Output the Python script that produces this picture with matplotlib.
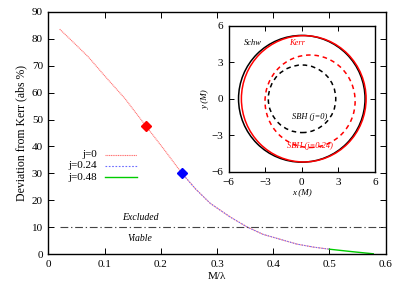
import matplotlib
matplotlib.use("Agg")
import matplotlib.pyplot as plt
from matplotlib.patches import Ellipse
from matplotlib.lines import Line2D

plt.rcParams["font.family"] = ["Liberation Serif", "DejaVu Serif"]

# ---- main curve data: deviation from Kerr vs M/lambda ----
ml_j0 = [0.02, 0.045, 0.071, 0.1, 0.136, 0.173, 0.205, 0.237, 0.262, 0.288,
         0.323, 0.353, 0.382, 0.412, 0.442, 0.471, 0.5]
dev_j0 = [83.5, 78.5, 73.2, 66.2, 57.8, 47.7, 39.1, 30.2, 24.2, 18.9,
          13.9, 10.2, 7.4, 5.6, 3.8, 2.7, 1.9]
ml_j024 = [0.237, 0.262, 0.288, 0.323, 0.353, 0.382, 0.412, 0.442, 0.471, 0.5]
dev_j024 = [30.2, 24.2, 18.9, 13.9, 10.2, 7.4, 5.6, 3.8, 2.7, 1.9]
ml_j048 = [0.5, 0.54, 0.578]
dev_j048 = [1.9, 1.0, 0.2]

marker_red = (0.173, 47.7)
marker_blue = (0.237, 30.2)
threshold = 10
threshold_x = [0.02, 0.6]

# ---- inset shadow contours: (centre x, centre y, width, height) ----
shadows = {
    "Schw":        (0.0, 0.0, 10.39, 10.39),
    "Kerr":        (0.16, 0.0, 10.24, 10.36),
    "SBH (j=0)":   (0.02, 0.0, 5.54, 5.54),
    "SBH (j=0.24)": (0.68, -0.2, 7.4, 7.58),
}
shadow_style = {
    "Schw": ("black", "-"),
    "Kerr": ("red", "-"),
    "SBH (j=0)": ("black", (0, (3, 2.5))),
    "SBH (j=0.24)": ("red", (0, (3, 2.5))),
}

RED_LINE = "#ff7070"
BLUE_LINE = "#6a6aff"
GREEN_LINE = "#00cc00"

fig = plt.figure(figsize=(4.07, 2.91), dpi=100)
ax = fig.add_axes([0.119, 0.126, 0.8285, 0.834])

ax.plot(ml_j0, dev_j0, color=RED_LINE, lw=0.8, ls=(0, (1, 0.6)))
ax.plot(ml_j024, dev_j024, color=BLUE_LINE, lw=0.7, ls=(0, (1.5, 1.5)))
ax.plot(ml_j048, dev_j048, color=GREEN_LINE, lw=1.0)
ax.plot(*marker_red, marker="D", color="red", ms=5)
ax.plot(*marker_blue, marker="D", color="blue", ms=5)
ax.plot(threshold_x, [threshold, threshold], color="#444444", lw=0.8,
        ls=(0, (7, 2.5, 1.2, 2.5)))

ax.text(0.163, 13.6, "Excluded", style="italic", fontsize=7, ha="center", va="center")
ax.text(0.163, 5.7, "Viable", style="italic", fontsize=7, ha="center", va="center")

ax.set_xlim(0, 0.6)
ax.set_ylim(0, 90)
ax.set_xticks([0, 0.1, 0.2, 0.3, 0.4, 0.5, 0.6])
ax.set_xticklabels(["0", "0.1", "0.2", "0.3", "0.4", "0.5", "0.6"])
ax.set_yticks(range(0, 91, 10))
ax.tick_params(direction="in", top=True, right=True, length=4, width=0.7,
               labelsize=8, pad=4)
for s in ax.spines.values():
    s.set_linewidth(1.0)
ax.set_xlabel("M/λ", fontsize=8, labelpad=2)
ax.set_ylabel("Deviation from Kerr (abs %)", fontsize=8.5, labelpad=3)

# legend drawn gnuplot-style: labels right-aligned, sample to the right
leg_items = [("j=0", RED_LINE, (0, (1, 0.6)), 0.8),
             ("j=0.24", BLUE_LINE, (0, (1.5, 1.5)), 0.8),
             ("j=0.48", GREEN_LINE, "-", 1.0)]
for i, (lab, col, ls, lw) in enumerate(leg_items):
    yy = 0.41 - i * 0.046
    ax.text(0.144, yy, lab, transform=ax.transAxes, ha="right", va="center",
            fontsize=8)
    ax.add_line(Line2D([0.168, 0.262], [yy, yy], transform=ax.transAxes,
                       color=col, ls=ls, lw=lw))

# ---- inset ----
axi = fig.add_axes([0.562, 0.409, 0.359, 0.503])
axi.set_facecolor("white")
for name, (cx, cy, w, h) in shadows.items():
    col, ls = shadow_style[name]
    axi.add_patch(Ellipse((cx, cy), w, h, fill=False, edgecolor=col,
                          ls=ls, lw=1.1))
axi.text(-4.0, 4.55, "Schw", style="italic", fontsize=6, ha="center", va="center")
axi.text(-0.42, 4.55, "Kerr", style="italic", fontsize=6, color="red",
         ha="center", va="center")
axi.text(0.68, -1.5, "SBH (j=0)", style="italic", fontsize=6, ha="center", va="center")
axi.text(0.68, -3.85, "SBH (j=0.24)", style="italic", fontsize=6, color="red",
         ha="center", va="center")
axi.set_xlim(-6, 6)
axi.set_ylim(-6, 6)
axi.set_xticks([-6, -3, 0, 3, 6])
axi.set_yticks([-6, -3, 0, 3, 6])
axi.tick_params(direction="in", top=True, right=True, length=3.5, width=0.7,
                labelsize=8, pad=4)
for s in axi.spines.values():
    s.set_linewidth(1.0)
axi.set_xlabel("x (M)", style="italic", fontsize=6.5, labelpad=1)
axi.set_ylabel("y (M)", style="italic", fontsize=6.5, labelpad=1)

fig.savefig("out.png", dpi=100)
